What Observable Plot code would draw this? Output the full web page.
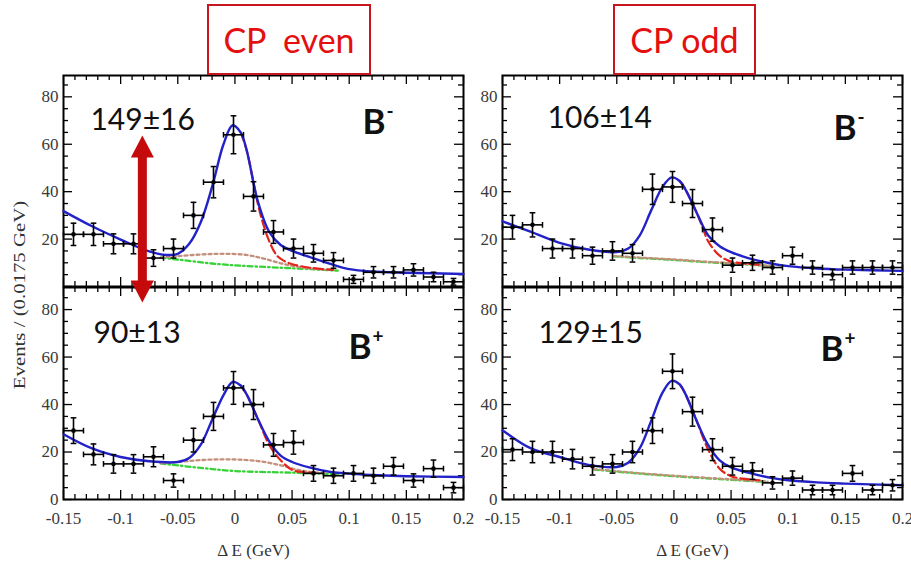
<!DOCTYPE html>
<html><head><meta charset="utf-8">
<script src="https://cdn.jsdelivr.net/npm/d3@7"></script>
<script src="https://cdn.jsdelivr.net/npm/@observablehq/plot@0.6"></script>
<style>
body{margin:0;background:#fff;}
#root{position:relative;width:911px;height:563px;overflow:hidden;background:#fff;}
#root svg{position:absolute;overflow:visible;background:transparent;}
.cpbox{position:absolute;box-sizing:border-box;border:2px solid #c8161e;background:#fff;color:#e3100f;
  font-family:Lato,sans-serif;font-size:34px;display:flex;align-items:center;justify-content:center;white-space:pre;}
#ylab{position:absolute;left:20px;top:295px;transform:translate(-50%,-50%) rotate(-90deg) scaleX(1.3);
  font-family:'Liberation Serif',serif;font-size:16px;white-space:nowrap;color:#333;}
</style></head><body><div id="root"></div>
<script>
// ---- shared axis data ----
const xTickLabels = [-0.15, -0.1, -0.05, 0, 0.05, 0.1, 0.15, 0.2];
const yTickLabelsTop = [20, 40, 60, 80];
const yTickLabelsBottom = [0, 20, 40, 60, 80];
const binCenters = [-0.14125,-0.12375,-0.10625,-0.08875,-0.07125,-0.05375,-0.03625,-0.01875,-0.00125,0.01625,
                    0.03375,0.05125,0.06875,0.08625,0.10375,0.12125,0.13875,0.15625,0.17375,0.19125];
const binHalfWidth = 0.00875;
const columnTitles = ["CP  even", "CP odd"];
const yTitle = "Events / (0.0175 GeV)";
const xTitle = "\u0394 E (GeV)";

// ---- CP even, B- ----
const evenMinusCounts = [22,22,18,18,12,16,30,44,64,38,23,16,14,11,3,6,6,7,4,2];
const evenMinusErrors = [4.7,4.7,4.2,4.2,3.5,4.0,5.5,6.6,8.0,6.2,4.8,4.0,3.7,3.3,1.7,2.4,2.4,2.6,2.0,1.4];
const evenMinusTotal = [[-0.15,31.8],[-0.125,25.4],[-0.1,19.8],[-0.075,14.8],[-0.06,13.3],[-0.05,13.8],[-0.04,18],[-0.03,27],
  [-0.02,42],[-0.01,60],[-0.002,68],[0.005,65],[0.01,58],[0.02,36],[0.03,23],[0.04,17.5],[0.05,15],[0.065,12.5],
  [0.085,9.3],[0.1,7.3],[0.12,6.3],[0.15,5.8],[0.2,5.3]];
const evenMinusSignal = [[0.005,65],[0.01,58],[0.02,35],[0.025,26],[0.031,18],[0.037,12.9],[0.043,10.8],[0.051,9.3],[0.066,7.9],[0.086,7]];
const evenMinusPeaking = [[-0.065,12.2],[-0.05,12.8],[-0.03,13.5],[-0.01,13.8],[0.01,13.3],[0.025,11.8],[0.04,9.8],[0.055,8.3],[0.07,7.4],[0.085,7]];
const evenMinusComb = [[-0.065,12.2],[-0.04,10.8],[-0.02,9.7],[0,8.9],[0.02,8.4],[0.045,7.8],[0.07,7.2],[0.09,6.7]];
const evenMinusYield = "149\u00b116";

// ---- CP odd, B- ----
const oddMinusCounts = [25,26,16,16,13,15,14,41,42,35,24,9,10,8,13,8,5,8,8,8];
const oddMinusErrors = [5.0,5.1,4.0,4.0,3.6,3.9,3.7,6.4,6.5,5.9,4.9,3.0,3.2,2.8,3.6,2.8,2.2,2.8,2.8,2.8];
const oddMinusTotal = [[-0.15,27.5],[-0.125,23],[-0.1,18.4],[-0.075,15.6],[-0.05,14.5],[-0.04,16],[-0.03,21.5],[-0.02,32],
  [-0.01,42],[-0.002,46],[0.005,44.5],[0.01,41],[0.02,31],[0.03,21.5],[0.04,17],[0.05,14.5],[0.065,12],[0.085,9.7],
  [0.1,8.6],[0.125,7.6],[0.15,7.1],[0.2,6.6]];
const oddMinusSignal = [[0.005,44.5],[0.01,41],[0.02,31],[0.025,25],[0.03,19],[0.04,13],[0.05,10.5],[0.06,9.8],[0.075,9.2]];
const oddMinusPeaking = [[-0.053,12.9],[-0.03,12.2],[0,11.4],[0.03,10.4],[0.05,9.9],[0.087,8.6]];
const oddMinusComb = [[-0.053,12.7],[-0.03,12.0],[0,11.2],[0.03,10.2],[0.05,9.7],[0.087,8.5]];
const oddMinusYield = "106\u00b114";

// ---- CP even, B+ ----
const evenPlusCounts = [29,19,15,15,18,8,25,35,47,40,23,24,11,10,11,10,14,8,13,5];
const evenPlusErrors = [5.4,4.4,3.9,3.9,4.2,2.8,5.0,5.9,6.9,6.3,4.8,4.9,3.3,3.2,3.3,3.2,3.7,2.8,3.6,2.2];
const evenPlusTotal = [[-0.15,27.5],[-0.125,21.5],[-0.1,17.9],[-0.075,16.1],[-0.05,15.8],[-0.04,17.5],[-0.03,23],[-0.02,33.5],
  [-0.01,44],[-0.002,49.5],[0.005,48],[0.01,44.5],[0.02,34],[0.03,24.5],[0.04,18.5],[0.05,15.8],[0.065,13.5],[0.085,11.5],
  [0.1,10.9],[0.125,10.2],[0.15,9.8],[0.2,9.5]];
const evenPlusSignal = [[0.005,48],[0.01,44.5],[0.02,34],[0.03,23],[0.04,16.5],[0.05,12.5],[0.06,11.5],[0.07,11.2]];
const evenPlusPeaking = [[-0.065,15.2],[-0.05,15.8],[-0.03,16.6],[-0.005,16.9],[0.02,16.2],[0.04,14.4],[0.055,12.5],[0.07,11.4],[0.08,11.1]];
const evenPlusComb = [[-0.065,15.2],[-0.03,13.3],[0,12],[0.05,11.3],[0.09,10.7]];
const evenPlusYield = "90\u00b113";

// ---- CP odd, B+ ----
const oddPlusCounts = [21,20,20,17,14,15,20,29,54,37,21,14,12,7,9,4,4,11,4,6];
const oddPlusErrors = [4.6,4.5,4.5,4.1,3.7,3.9,4.5,5.4,7.3,6.1,4.6,3.7,3.5,2.6,3.0,2.0,2.0,3.3,2.0,2.4];
const oddPlusTotal = [[-0.15,29.2],[-0.125,21.5],[-0.1,17.9],[-0.075,14.6],[-0.05,13.7],[-0.04,15.5],[-0.03,21.5],[-0.02,33],
  [-0.01,45],[-0.002,50],[0.005,48.5],[0.01,44.5],[0.02,33],[0.03,22.9],[0.04,16.5],[0.05,13.5],[0.065,11.3],[0.085,9.1],
  [0.1,8.1],[0.125,7.2],[0.15,6.7],[0.2,6.0]];
const oddPlusSignal = [[0.005,48.5],[0.01,44.5],[0.02,33],[0.03,21],[0.04,13],[0.05,9.8],[0.06,8.8],[0.075,8.1]];
const oddPlusPeaking = [[-0.07,12.8],[-0.035,11.3],[0,10.0],[0.04,8.8],[0.082,7.5]];
const oddPlusComb = [[-0.07,12.6],[-0.035,11.1],[0,9.8],[0.04,8.6],[0.082,7.4]];
const oddPlusYield = "129\u00b115";

// ---- annotation positions (data coordinates) ----
const arrowX = -0.081;
const arrowTips = [-6.8, 63.7];

const hCap = {draw(c, s){ const w = Math.sqrt(s)/2; c.moveTo(-w,0); c.lineTo(w,0); }};
const vCap = {draw(c, s){ const w = Math.sqrt(s)/2; c.moveTo(0,-w); c.lineTo(0,w); }};
const headUp = {draw(c){ c.moveTo(0,0); c.lineTo(11.5,22); c.lineTo(-11.5,22); c.closePath(); }};
const headDown = {draw(c){ c.moveTo(0,0); c.lineTo(11.5,-22); c.lineTo(-11.5,-22); c.closePath(); }};

const W = 400, ML = 60, MR = 20, MT = 20, MB = 60;
const root = document.getElementById("root");

function panel(cfg) {
  const {left, top, h, ymax, bottom, counts, errors, total, signal, peaking, comb, yieldText, yieldPos, sign, chargePos, arrow} = cfg;
  const pts = binCenters.map((x, i) => ({x, y: counts[i], e: errors[i]}));
  const yMinor = d3.range(5, ymax, 5).filter(v => v % 20 !== 0);
  const xMinor = d3.range(-14, 20).filter(v => v % 5 !== 0).map(v => v / 100);
  const XY = {x: d => d[0], y: d => d[1], curve: "catmull-rom"};
  const tickStyle = {stroke: "black", strokeWidth: 1.3};
  const marks = [
    Plot.tickY(yTickLabelsBottom, {y: d => d, insetRight: W - 9, ...tickStyle}),
    Plot.tickY(yTickLabelsBottom, {y: d => d, insetLeft: W - 9, ...tickStyle}),
    Plot.tickY(yMinor, {y: d => d, insetRight: W - 5, ...tickStyle}),
    Plot.tickY(yMinor, {y: d => d, insetLeft: W - 5, ...tickStyle}),
    Plot.tickX(xTickLabels, {x: d => d, insetTop: h - 9, ...tickStyle}),
    Plot.tickX(xTickLabels, {x: d => d, insetBottom: h - 9, ...tickStyle}),
    Plot.tickX(xMinor, {x: d => d, insetTop: h - 5, ...tickStyle}),
    Plot.tickX(xMinor, {x: d => d, insetBottom: h - 5, ...tickStyle}),
    Plot.frame({stroke: "black", strokeWidth: 2}),
    Plot.axisY(bottom ? yTickLabelsBottom : yTickLabelsTop, {anchor: "left", tickSize: 0, tickPadding: 5, fontSize: 17,
      fontFamily: "Liberation Serif", color: "#3a3a3a", label: null}),
    Plot.line(comb, {...XY, stroke: "#35d335", strokeWidth: 2.3, strokeDasharray: "5,3,1.5,3"}),
    Plot.line(peaking, {...XY, stroke: "#c4907c", strokeWidth: 2.3, strokeDasharray: "3,3"}),
    Plot.line(signal, {...XY, stroke: "#e3241b", strokeWidth: 2.2, strokeDasharray: "9,4"}),
    Plot.line(total, {...XY, stroke: "#2222c8", strokeWidth: 2.4}),
    Plot.ruleX(pts, {x: "x", y1: d => d.y - d.e, y2: d => d.y + d.e, stroke: "black", strokeWidth: 1.6}),
    Plot.ruleY(pts, {y: "y", x1: d => d.x - binHalfWidth, x2: d => d.x + binHalfWidth, stroke: "black", strokeWidth: 1.6}),
    Plot.dot(pts, {x: "x", y: d => d.y + d.e, symbol: hCap, r: 3.2, stroke: "black", fill: "none", strokeWidth: 1.5}),
    Plot.dot(pts, {x: "x", y: d => d.y - d.e, symbol: hCap, r: 3.2, stroke: "black", fill: "none", strokeWidth: 1.5}),
    Plot.dot(pts, {x: d => d.x - binHalfWidth, y: "y", symbol: vCap, r: 3.2, stroke: "black", fill: "none", strokeWidth: 1.5}),
    Plot.dot(pts, {x: d => d.x + binHalfWidth, y: "y", symbol: vCap, r: 3.2, stroke: "black", fill: "none", strokeWidth: 1.5}),
    Plot.dot(pts, {x: "x", y: "y", r: 2.3, fill: "black", stroke: "none"}),
    Plot.text([yieldText], {x: yieldPos[0], y: yieldPos[1], text: d => d, textAnchor: "start", lineAnchor: "middle",
      fontSize: 30, fontFamily: "Lato", fill: "#111"}),
    Plot.text(["B"], {x: chargePos[0], y: chargePos[1], text: d => d, textAnchor: "start", lineAnchor: "middle",
      fontSize: 35, fontWeight: "bold", fontFamily: "Lato", fill: "#111"}),
    Plot.text([sign], {x: chargePos[0], y: chargePos[1], text: d => d, textAnchor: "start", lineAnchor: "middle",
      dx: 24, dy: -11, fontSize: 19, fontWeight: "bold", fontFamily: "Lato", fill: "#111"})
  ];
  if (bottom) {
    marks.push(Plot.axisX(xTickLabels, {anchor: "bottom", tickSize: 0, tickPadding: 12, fontSize: 17,
      fontFamily: "Liberation Serif", color: "#3a3a3a", tickFormat: d => String(d), label: null}));
    marks.push(Plot.text([xTitle], {frameAnchor: "bottom", dx: -10, dy: 51, text: d => d, lineAnchor: "middle",
      fontSize: 17, fontFamily: "Liberation Serif", fill: "#333"}));
  }
  if (arrow) {
    marks.push(Plot.ruleX([arrowX], {x: d => d, y1: arrowTips[0] + 8, y2: arrowTips[1] - 8, stroke: "#c40a0a", strokeWidth: 9}));
    marks.push(Plot.dot([arrowX], {x: d => d, y: arrowTips[1], symbol: headUp, fill: "#c40a0a", stroke: "none"}));
    marks.push(Plot.dot([arrowX], {x: d => d, y: arrowTips[0], symbol: headDown, fill: "#c40a0a", stroke: "none"}));
  }
  const svg = Plot.plot({
    width: W + ML + MR, height: h + MT + MB,
    marginLeft: ML, marginRight: MR, marginTop: MT, marginBottom: MB,
    x: {domain: [-0.15, 0.2], label: null, axis: bottom ? undefined : null},
    y: {domain: [0, ymax], label: null},
    style: {background: "transparent", overflow: "visible", fontFamily: "Liberation Serif"},
    marks
  });
  svg.style.left = (left - ML) + "px";
  svg.style.top = (top - MT) + "px";
  root.appendChild(svg);
}

panel({left: 63, top: 287, h: 212, ymax: 89.3, bottom: true, counts: evenPlusCounts, errors: evenPlusErrors,
  total: evenPlusTotal, signal: evenPlusSignal, peaking: evenPlusPeaking, comb: evenPlusComb,
  yieldText: evenPlusYield, yieldPos: [-0.1237, 70.1], sign: "+", chargePos: [0.0994, 63.8]});
panel({left: 502, top: 287, h: 212, ymax: 89.3, bottom: true, counts: oddPlusCounts, errors: oddPlusErrors,
  total: oddPlusTotal, signal: oddPlusSignal, peaking: oddPlusPeaking, comb: oddPlusComb,
  yieldText: oddPlusYield, yieldPos: [-0.1185, 69.9], sign: "+", chargePos: [0.1282, 63.2]});
panel({left: 502, top: 75, h: 211, ymax: 89, bottom: false, counts: oddMinusCounts, errors: oddMinusErrors,
  total: oddMinusTotal, signal: oddMinusSignal, peaking: oddMinusPeaking, comb: oddMinusComb,
  yieldText: oddMinusYield, yieldPos: [-0.1106, 71.1], sign: "-", chargePos: [0.1396, 66.5]});
panel({left: 63, top: 75, h: 211, ymax: 89, bottom: false, counts: evenMinusCounts, errors: evenMinusErrors,
  total: evenMinusTotal, signal: evenMinusSignal, peaking: evenMinusPeaking, comb: evenMinusComb,
  yieldText: evenMinusYield, yieldPos: [-0.1264, 70], sign: "-", chargePos: [0.1116, 69], arrow: true});

[[207, columnTitles[0], 164], [613, columnTitles[1], 143]].forEach(([l, t, w]) => {
  const d = document.createElement("div");
  d.className = "cpbox";
  d.style.left = l + "px"; d.style.top = "4px"; d.style.width = w + "px"; d.style.height = "71px";
  d.textContent = t;
  root.appendChild(d);
});
const yl = document.createElement("div");
yl.id = "ylab"; yl.textContent = yTitle;
root.appendChild(yl);
</script></body></html>
